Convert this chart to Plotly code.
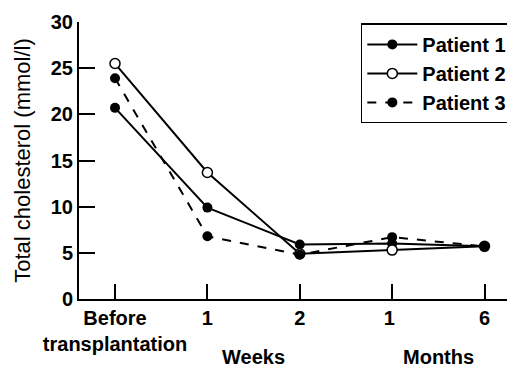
import plotly.graph_objects as go

categories = ["Before<br>transplantation", "1", "2", "1 ", "6"]
patient1 = [20.7, 9.9, 5.9, 6.0, 5.7]
patient2 = [25.5, 13.7, 4.9, 5.3, 5.7]
patient3 = [23.9, 6.8, 4.8, 6.7, 5.7]
y_ticks = [0, 5, 10, 15, 20, 25, 30]
group_labels = ["Weeks", "Months"]
group_pos = [1.5, 3.5]

FONT = "Liberation Sans"
x_idx = list(range(len(categories)))

fig = go.Figure()
fig.add_trace(go.Scatter(x=x_idx, y=patient1, name="Patient 1", mode="lines+markers",
                         line=dict(color="black", width=2),
                         marker=dict(symbol="circle", size=10, color="black")))
fig.add_trace(go.Scatter(x=x_idx, y=patient2, name="Patient 2", mode="lines+markers",
                         line=dict(color="black", width=2),
                         marker=dict(symbol="circle", size=10, color="white",
                                     line=dict(color="black", width=1.5))))
fig.add_trace(go.Scatter(x=x_idx, y=patient3, name="Patient 3", mode="lines+markers",
                         line=dict(color="black", width=2, dash="dash"),
                         marker=dict(symbol="circle", size=10, color="black")))

for lbl, pos in zip(group_labels, group_pos):
    fig.add_annotation(x=pos, y=-0.209, xref="x", yref="paper", text=lbl, showarrow=False,
                       font=dict(family=FONT, size=20, color="black", weight="bold"),
                       xanchor="center", yanchor="middle")

fig.update_layout(
    width=515, height=367,
    margin=dict(l=71, r=8, t=14, b=76),
    paper_bgcolor="white", plot_bgcolor="white",
    showlegend=True,
    legend=dict(x=0.995, y=0.995, xanchor="right", yanchor="top",
                bordercolor="black", borderwidth=1.5, bgcolor="white",
                font=dict(family=FONT, size=20, color="black", weight="bold"),
                tracegroupgap=0, itemwidth=50),
    font=dict(family=FONT, color="black"),
)
fig.update_xaxes(range=[-0.39, 4.33], tickmode="array", tickvals=x_idx, ticktext=categories,
                 showline=True, linecolor="black", linewidth=2, showgrid=False, zeroline=False,
                 ticks="inside", ticklen=15, tickwidth=2, tickcolor="black", automargin=False,
                 tickfont=dict(family=FONT, size=20, color="black", weight="bold"))
fig.update_yaxes(range=[0, 30], tickvals=y_ticks, showline=True, linecolor="black", linewidth=2,
                 showgrid=False, zeroline=False, ticks="inside", ticklen=16, tickwidth=2,
                 tickcolor="black", automargin=False,
                 title=dict(text="Total cholesterol (mmol/l)", standoff=14,
                            font=dict(family=FONT, size=22, color="black")),
                 tickfont=dict(family=FONT, size=20, color="black", weight="bold"))

fig.write_html("out.html")
